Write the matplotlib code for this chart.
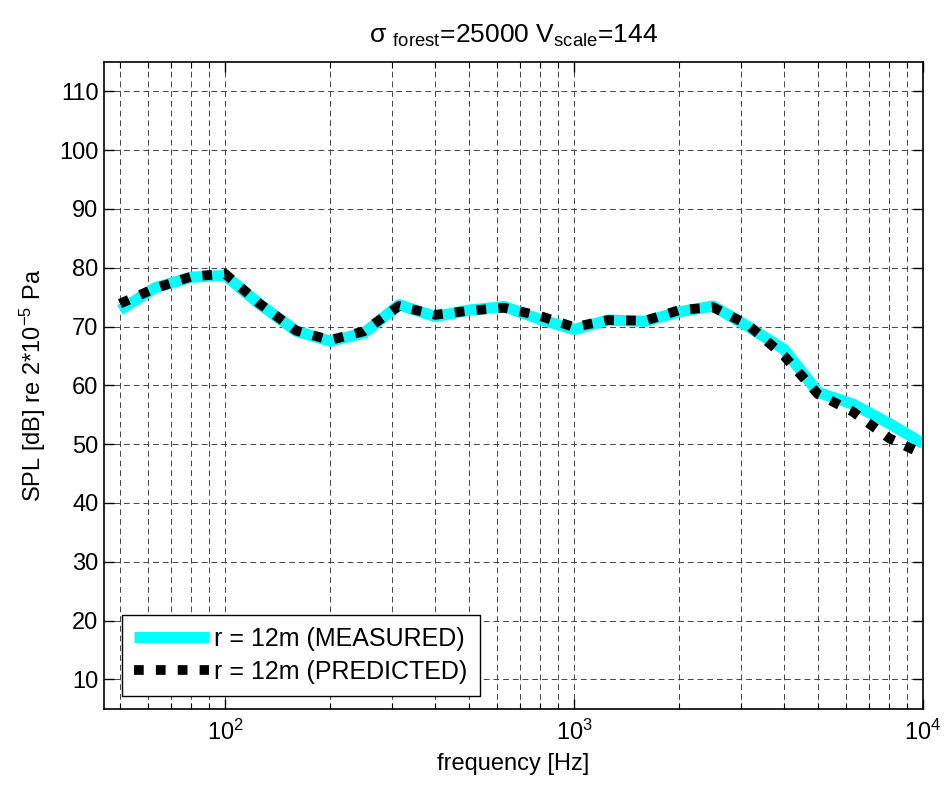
import matplotlib
matplotlib.use("Agg")
import matplotlib.pyplot as plt
from matplotlib.ticker import LogLocator, NullFormatter, MultipleLocator

plt.rcParams['font.family'] = ['Liberation Sans', 'DejaVu Sans']
plt.rcParams['mathtext.fontset'] = 'custom'
plt.rcParams['mathtext.rm'] = 'Liberation Sans'
plt.rcParams['mathtext.it'] = 'Liberation Sans'
plt.rcParams['mathtext.sf'] = 'Liberation Sans'

freq = [50, 63, 80, 100, 125, 160, 200, 250, 315, 400, 500, 630, 800,
        1000, 1250, 1600, 2000, 2500, 3150, 4000, 5000, 6300, 8000, 10000]
measured = [72.8, 76.6, 78.4, 78.7, 73.9, 69.2, 67.5, 68.9, 73.7, 71.7, 72.8, 73.4, 71.2,
            69.5, 71.1, 70.9, 72.5, 73.5, 70.0, 66.1, 58.8, 56.8, 53.5, 50.1]
predicted = [73.9, 76.5, 78.5, 79.0, 74.0, 69.3, 67.7, 69.2, 73.5, 72.0, 72.7, 73.2, 71.8,
             69.9, 71.1, 71.0, 72.8, 73.3, 70.3, 65.0, 58.5, 55.5, 51.0, 48.3]
labels = ['r = 12m (MEASURED)', 'r = 12m (PREDICTED)']

FS = 17

fig = plt.figure(figsize=(9.47, 7.91), dpi=100)
ax = fig.add_axes([0.1098, 0.104, 0.8649, 0.8176])

ax.plot(freq, measured, color='#00FFFF', lw=8, solid_capstyle='butt', label=labels[0])
ax.plot(freq, predicted, color='black', lw=7, linestyle=(0, (1, 1.25)),
        dash_capstyle='butt', label=labels[1])

ax.set_xscale('log')
ax.set_xlim(45, 10000)
ax.set_ylim(5, 115)
ax.yaxis.set_major_locator(MultipleLocator(10))
ax.xaxis.set_major_locator(LogLocator(base=10, numticks=10))
ax.xaxis.set_minor_locator(LogLocator(base=10, subs=range(2, 10), numticks=20))
ax.xaxis.set_minor_formatter(NullFormatter())

gridkw = dict(color='#444444', linestyle=(0, (6, 4)), linewidth=0.7)
ax.grid(True, which='major', axis='both', **gridkw)
ax.grid(True, which='minor', axis='x', **gridkw)
ax.set_axisbelow(True)

ax.tick_params(which='both', direction='in', top=True, right=True, labelsize=FS)
ax.tick_params(which='major', length=7, width=1)
ax.tick_params(which='minor', length=4, width=0.8)
ax.tick_params(axis='x', which='major', pad=8)
ax.tick_params(axis='y', which='major', pad=4)
for s in ax.spines.values():
    s.set_linewidth(1.2)

ax.set_xlabel('frequency [Hz]', fontsize=FS, labelpad=6)
ax.set_ylabel(r'SPL [dB] re 2*10$^{-5}$ Pa', fontsize=FS, labelpad=8)
ax.set_title(r'$\sigma$ $_{\rm forest}$=25000 V$_{\rm scale}$=144', fontsize=19, pad=14)

leg = ax.legend(loc='lower left', bbox_to_anchor=(0.0216, 0.019), borderaxespad=0,
                fontsize=18, handlelength=3.0, handletextpad=0.2, frameon=True,
                fancybox=False, edgecolor='black', framealpha=1,
                borderpad=0.5, labelspacing=0.35)
leg.get_frame().set_linewidth(1.0)

fig.savefig('out.png', dpi=100)
